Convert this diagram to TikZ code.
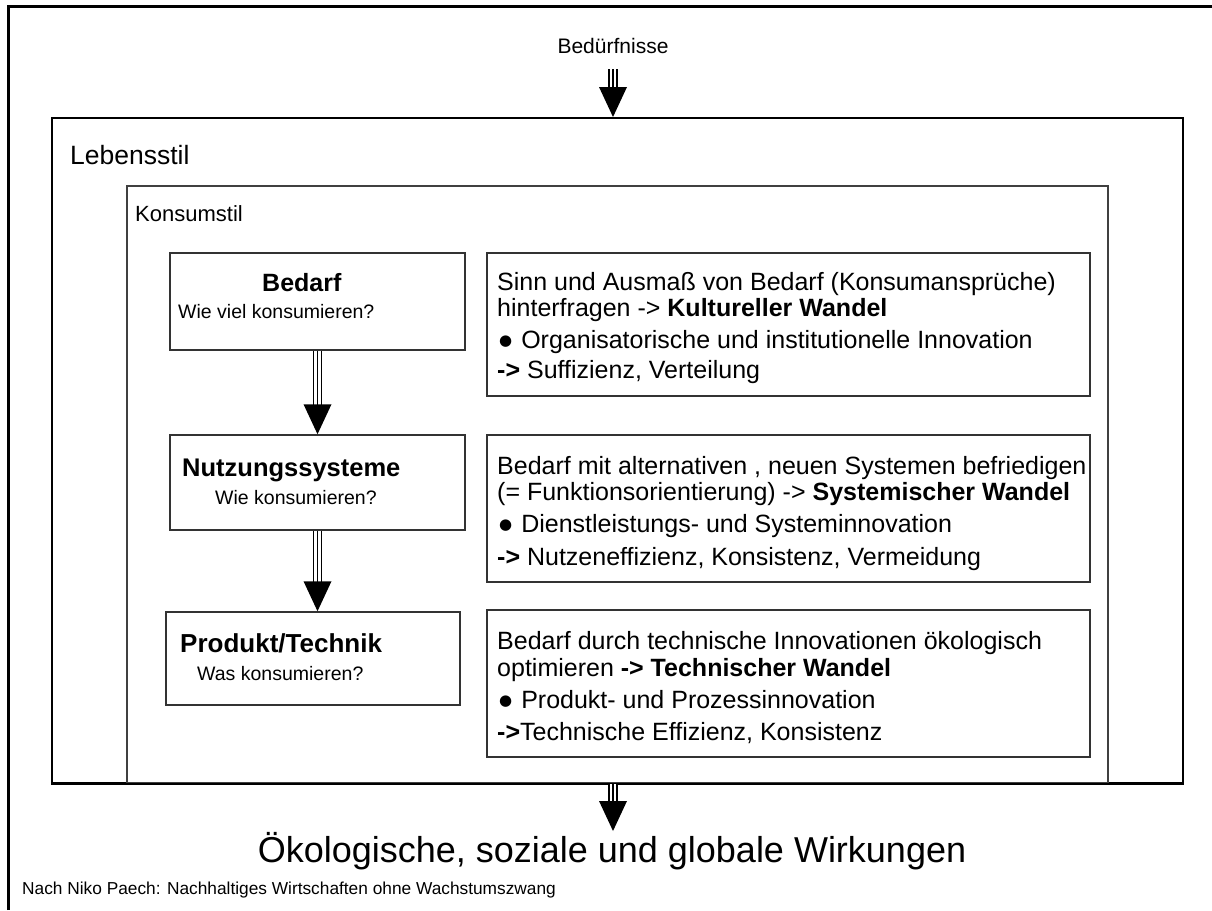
\documentclass[tikz,border=0pt]{standalone}
\usepackage{fontspec}
\setmainfont{Liberation Sans}
\newfontfamily\dejavu{DejaVu Sans}
\usetikzlibrary{calc}
\newcommand\tarr[2]{%
  \draw[shaft] (#1) -- ($(#2)+(0,-29)$);
  \fill[black] (#2) -- ++(-14,-30) -- ++(28,0) -- cycle;}
\newcommand\blt{\raisebox{3pt}{\dejavu\fontsize{15}{15}\selectfont ●}\hspace{9pt}}
\begin{document}
\begin{tikzpicture}[x=1pt,y=-1pt,
  fs/.style={font=\fontsize{#1}{#1}\selectfont},
  fsb/.style={font=\fontsize{#1}{#1}\selectfont\bfseries},
  box/.style={draw=black!80, line width=1.5pt, inner sep=0pt},
  bigbox/.style={draw=black, line width=2pt, inner sep=0pt},
  txt/.style={inner sep=0pt, anchor=base west, fs=25},
  shaft/.style={line width=9.5pt, black,
    postaction={draw=white, line width=6.5pt},
    postaction={draw=black, line width=1.5pt}}]
\useasboundingbox (0,0) rectangle (1212,910);
\fill[white] (0,0) rectangle (1212,910);
% outer frame
\draw[line width=3pt] (8,910) -- (8,6) -- (1212,6);

% frames
\node[bigbox, minimum width=1131pt, minimum height=665pt] (leben) at (617.5,450.5) {};
\node[box, draw=black!75, line width=2pt, minimum width=981pt, minimum height=597pt] (kons) at (617.5,484.5) {};
\draw[bigbox] (leben.south west) -- (leben.south east);

\node[inner sep=0pt, anchor=base west, fs=26.5] (lebent) at (70,164) {Lebensstil};
\node[inner sep=0pt, anchor=base west, fs=22] (konst) at (135,221) {Konsumstil};

% left boxes
\node[box, minimum width=295pt, minimum height=97pt] (bedarf) at (317.5,301.5) {};
\node[box, minimum width=295pt, minimum height=95pt] (nutz) at (317.5,482.5) {};
\node[box, minimum width=294pt, minimum height=93pt] (prod) at (313,658.5) {};

\node[inner sep=0pt, anchor=base west, fsb=25] (bedarft) at (262,291) {Bedarf};
\node[inner sep=0pt, anchor=base west, fs=19.5] (bedarfq) at (178,318) {Wie viel konsumieren?};
\node[inner sep=0pt, anchor=base west, fsb=25.5] (nutzt) at (182,476) {Nutzungssysteme};
\node[inner sep=0pt, anchor=base west, fs=19.5] (nutzq) at (215,504) {Wie konsumieren?};
\node[inner sep=0pt, anchor=base west, fsb=26] (prodt) at (180,652) {Produkt/Technik};
\node[inner sep=0pt, anchor=base west, fs=19.5] (prodq) at (197,680) {Was konsumieren?};

% right boxes
\node[box, minimum width=603pt, minimum height=143pt] (r1) at (788.5,324.5) {};
\node[box, minimum width=603pt, minimum height=147pt] (r2) at (788.5,508.5) {};
\node[box, minimum width=603pt, minimum height=147pt] (r3) at (788.5,683.5) {};

\node[txt] (r1a) at (497,290) {Sinn und Ausmaß von Bedarf (Konsumansprüche)};
\node[txt] (r1b) at (497,316) {hinterfragen -> \textbf{Kultureller Wandel}};
\node[txt] (r1c) at (499,348) {\blt Organisatorische und institutionelle Innovation};
\node[txt] (r1d) at (497,378) {\textbf{->} Suffizienz, Verteilung};

\node[txt] (r2a) at (497,474) {Bedarf mit alternativen , neuen Systemen befriedigen};
\node[txt] (r2b) at (497,500) {(= Funktionsorientierung) -> \textbf{Systemischer Wandel}};
\node[txt] (r2c) at (499,532) {\blt Dienstleistungs- und Systeminnovation};
\node[txt] (r2d) at (497,565) {\textbf{->} Nutzeneffizienz, Konsistenz, Vermeidung};

\node[txt] (r3a) at (497,649) {Bedarf durch technische Innovationen ökologisch};
\node[txt] (r3b) at (497,676) {optimieren \textbf{-> Technischer Wandel}};
\node[txt] (r3c) at (499,708) {\blt Produkt- und Prozessinnovation};
\node[txt] (r3d) at (497,740) {\textbf{->}Technische Effizienz, Konsistenz};

% top / bottom texts
\node[inner sep=0pt, anchor=base, fs=21] (bed) at (613,53) {Bedürfnisse};
\node[inner sep=0pt, anchor=base, fs=36] (wirk) at (612,862) {Ökologische, soziale und globale Wirkungen};
\node[inner sep=0pt, anchor=base west, fs=17.3] (nach) at (22,894) {Nach Niko Paech: Nachhaltiges Wirtschaften ohne Wachstumszwang};

% arrows
\coordinate (tstart) at ($(bed.south)+(0,16)$);
\tarr{tstart}{tstart |- leben.north}
\tarr{bedarf.south}{bedarf.south |- nutz.north}
\tarr{nutz.south}{nutz.south |- prod.north}
\coordinate (bstart) at (bed.south |- leben.south);
\coordinate (bend) at ($(bstart)+(0,47)$);
\tarr{bstart}{bend}
\end{tikzpicture}
\end{document}
